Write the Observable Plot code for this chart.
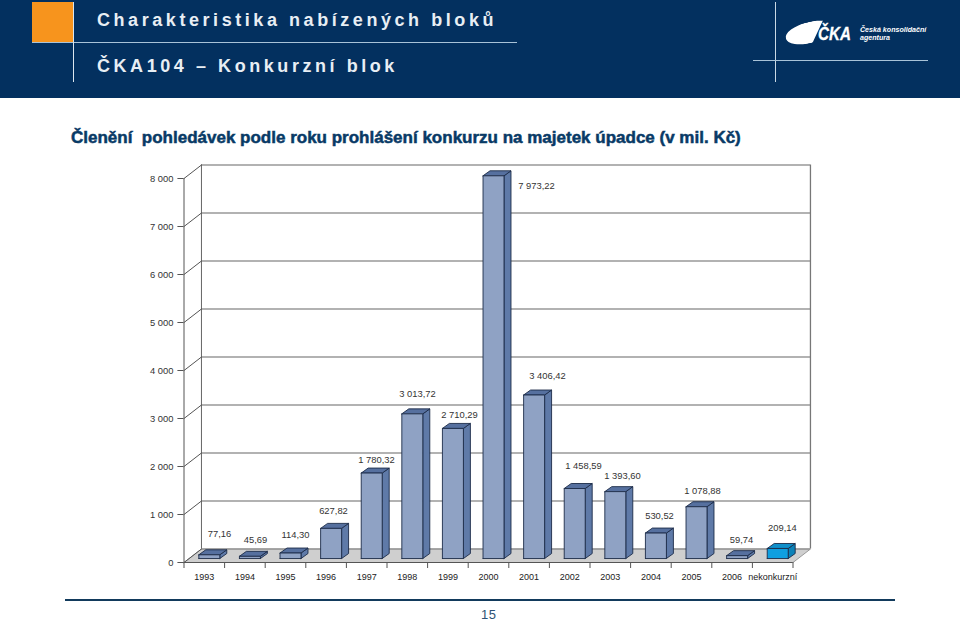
<!DOCTYPE html>
<html lang="cs"><head><meta charset="utf-8">
<script src="https://cdn.jsdelivr.net/npm/d3@7"></script>
<script src="https://cdn.jsdelivr.net/npm/@observablehq/plot@0.6"></script>
<style>
html,body{margin:0;padding:0;background:#fff;overflow:hidden}
#page{position:relative;width:960px;height:622px;overflow:hidden;font-family:"Liberation Sans",Arial,sans-serif}
#head{position:absolute;left:0;top:0;width:960px;height:98px;background:#03305f}
#head div{position:absolute}
.h1{color:#e8eef4;font-weight:bold;font-size:18px;letter-spacing:3.56px;white-space:nowrap}
#title{position:absolute;left:71px;top:128px;font-weight:bold;font-size:17px;color:#083a66;-webkit-text-stroke:.5px #083a66;white-space:pre}
#chart{position:absolute;left:0;top:150px}
#foot{position:absolute;left:65px;top:599px;width:830px;height:2px;background:#123a5c}
#num{position:absolute;left:481px;top:607px;font-size:13px;line-height:15px;height:15px;letter-spacing:.5px;color:#2d5275}
</style></head><body>
<div id="page">
<div id="head">
 <div style="left:32px;top:2px;width:41px;height:40px;background:#f7941d"></div>
 <div style="left:32px;top:42px;width:485px;height:1px;background:#a9c3d8"></div>
 <div style="left:73px;top:2px;width:1px;height:80px;background:#dbe6ee"></div>
 <div class="h1" style="left:97px;top:10px">Charakteristika nabízených bloků</div>
 <div class="h1" style="left:97px;top:56px">ČKA104 – Konkurzní blok</div>
 <div style="left:775px;top:2px;width:1px;height:80px;background:#c9d8e4"></div>
 <div style="left:753px;top:60px;width:175px;height:1px;background:#a9c3d8"></div>
 <div style="left:785px;top:22px;width:50px;height:21px;border-radius:50%;background:#fff;transform:rotate(-14deg);clip-path:polygon(0 0,84% 0,50% 100%,0 100%)"></div>
 <div style="left:818px;top:24px;color:#fff;font:italic bold 19px/20px 'Liberation Sans';transform:scaleX(.8);transform-origin:left top;-webkit-text-stroke:.3px #fff">ČKA</div>
 <div style="left:860px;top:27px;color:#fff;font:italic bold 7.1px/7.6px 'Liberation Sans';white-space:nowrap">Česká konsolidační<br>agentura</div>
</div>
<div id="title">Členění  pohledávek podle roku prohlášení konkurzu na majetek úpadce (v mil. Kč)</div>
<div id="chart"></div>
<div id="foot"></div>
<div id="num">15</div>
</div>
<script>
const categories = ["1993","1994","1995","1996","1997","1998","1999","2000","2001","2002","2003","2004","2005","2006","nekonkurzní"];
const values = [77.16,45.69,114.30,627.82,1780.32,3013.72,2710.29,7973.22,3406.42,1458.59,1393.60,530.52,1078.88,59.74,209.14];
const valueLabels = ["77,16","45,69","114,30","627,82","1 780,32","3 013,72","2 710,29","7 973,22","3 406,42","1 458,59","1 393,60","530,52","1 078,88","59,74","209,14"];
const labelX = [0.874,1.761,2.746,3.682,4.741,5.751,6.786,8.682,8.953,9.840,10.800,11.712,12.771,13.731,14.74];
const labelY = [604,479,583,1083,2146,3521,3083,7854,3896,2021,1792,979,1500,479,729];
const yTicks = [0,1000,2000,3000,4000,5000,6000,7000,8000];
const yTickLabels = ["0","1 000","2 000","3 000","4 000","5 000","6 000","7 000","8 000"];

// oblique projection, in data units of the two scales
const wallDx = 0.43, wallDy = 281;       // depth of the floor
const barDx = 0.172, barDy = 104;        // depth of a bar
const barLeft = 0.365, barWidth = 0.517; // front face inside a band
const baseDy = 83;                       // bar stands this far behind the front edge
const n = categories.length;

const poly = (name, pts) => pts.concat([pts[0]]).map(([x, y]) => ({name, x, y}));
const faces = values.flatMap((v, i) => {
  const l = i + barLeft, r = l + barWidth, b = baseDy, t = baseDy + v;
  return [{i, kind: "side", pts: [[r,b],[r+barDx,b+barDy],[r+barDx,t+barDy],[r,t]]},
          {i, kind: "top",  pts: [[l,t],[r,t],[r+barDx,t+barDy],[l+barDx,t+barDy]]},
          {i, kind: "front",pts: [[l,b],[r,b],[r,t],[l,t]]}];
});
const last = n - 1;
const color = {front:"#8fa2c4", side:"#5f7aa8", top:"#56709f"};
const colorLast = {front:"#0f9fe0", side:"#0c82b8", top:"#0f8fca"};
const faceRows = faces.flatMap(f => poly(f.kind + f.i, f.pts).map(p => ({...p, fill: (f.i === last ? colorLast : color)[f.kind]})));

const floor = poly("floor", [[0,0],[n,0],[n+wallDx,wallDy],[wallDx,wallDy]]);
const gridLines = yTicks.map(t => ({t}));
const diag = yTicks.flatMap(t => [{t, x:0, y:t},{t, x:wallDx, y:t+wallDy}]);

const plot = Plot.plot({
  width: 960, height: 442,
  margin: 0,
  x: {type:"linear", domain:[0,15], range:[183.5,792.5], axis:null},
  y: {type:"linear", domain:[0,8000], range:[412,28], axis:null},
  style: {background:"transparent", fontFamily:"'Liberation Sans',Arial,sans-serif"},
  marks: [
    Plot.line(floor, {x:"x", y:"y", fill:"#cfcfcf", stroke:"#9a9a9a", strokeWidth:1}),
    // back wall
    Plot.ruleY(gridLines, {y: d => d.t + wallDy, x1: wallDx, x2: n + wallDx, stroke:"#999", strokeWidth:1.3}),
    Plot.ruleX([wallDx], {y1: wallDy, y2: 8000 + wallDy, stroke:"#666", strokeWidth:1}),
    Plot.ruleX([n + wallDx], {y1: wallDy, y2: 8000 + wallDy, stroke:"#777", strokeWidth:1.3}),
    // side wall
    Plot.line(diag, {x:"x", y:"y", z:"t", stroke:"#555", strokeWidth:1}),
    Plot.ruleX([0], {y1: 0, y2: 8000, stroke:"#555", strokeWidth:1}),
    Plot.ruleY(yTicks, {x1: -0.15, x2: 0, stroke:"#555", strokeWidth:1}),
    // front edge and category ticks
    Plot.ruleY([0], {x1: 0, x2: n, stroke:"#555", strokeWidth:1}),
    Plot.ruleX(d3.range(n + 1), {y1: 0, y2: -125, stroke:"#555", strokeWidth:1}),
    // bars
    Plot.line(faceRows, {x:"x", y:"y", z:"name", fill:"fill", stroke:"#1c2b48", strokeWidth:0.9, strokeLinejoin:"round"}),
    // texts
    Plot.text(yTicks, {x: -0.26, y: d => d, text: (d, i) => yTickLabels[i], textAnchor:"end", fontSize:9.4, fill:"#333"}),
    Plot.text(categories, {x: (d, i) => i + 0.5, y: -312, text: d => d, fontSize:9, fill:"#222"}),
    Plot.text(valueLabels, {x: (d, i) => labelX[i], y: (d, i) => labelY[i], text: d => d, fontSize:9.4, fill:"#333"})
  ]
});
document.getElementById("chart").append(plot);
</script>
</body></html>
